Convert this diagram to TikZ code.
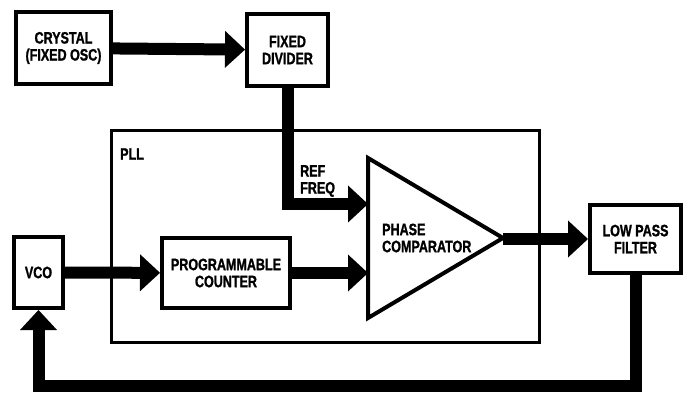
\documentclass[tikz,border=0pt]{standalone}
\usepackage{fontspec}
\setmainfont{Liberation Sans}[FakeStretch=0.76, BoldFeatures={FakeBold=1.2}]
\usetikzlibrary{arrows.meta}
\begin{document}
\begin{tikzpicture}[x=1pt, y=-1pt, >={Triangle[width=37pt,length=20pt,line width=0pt]}, font=\fontsize{16.5}{17}\selectfont\bfseries]
    % Styles
    \tikzstyle{block} = [rectangle, draw=black, line width=4pt, fill=white, align=center, inner sep=0pt]
    \tikzstyle{flow} = [->, line width=12pt]
    \useasboundingbox (0,0) rectangle (687,395);

    % PLL frame
    \node[draw, line width=3pt, minimum width=428pt, minimum height=212pt, inner sep=0pt] (pll) at (325.5,236.5) {};
    \node[anchor=west, inner sep=0pt] (plllabel) at (120,154) {PLL};

    % Nodes
    \node[block, minimum width=95pt, minimum height=72pt] (crystal) at (63.5,48) {CRYSTAL\\(FIXED OSC)};
    \node[block, minimum width=81pt, minimum height=72pt] (divider) at (287.5,50) {FIXED\\DIVIDER};
    \node[block, minimum width=49pt, minimum height=71pt] (vco) at (38.5,272.5) {VCO};
    \node[block, minimum width=128pt, minimum height=70pt] (counter) at (226,273) {PROGRAMMABLE\\COUNTER};
    \node[block, minimum width=91pt, minimum height=68pt] (lpf) at (635.5,239) {LOW PASS\\FILTER};

    % Phase comparator
    \draw[line width=4pt, line join=miter] (368,158) -- (503,238) -- (368,318) -- cycle;
    \coordinate (refin) at (368,204);
    \coordinate (cntin) at (368,273);
    \coordinate (cmpout) at (503,239);
    \node[anchor=west, align=left, inner sep=0pt] (cmplabel) at (382,238) {PHASE\\COMPARATOR};
    \node[anchor=west, align=left, inner sep=0pt] (reflabel) at (300,181) {REF\\FREQ};

    % Arrows
    \draw[flow] (crystal) -- (divider);
    \draw[flow] (divider.south) |- (refin);
    \draw[flow] (vco) -- (counter);
    \draw[flow] (counter) -- (cntin);
    \draw[flow] (cmpout) -- (lpf.west);
    \draw[flow] (lpf.south) -- ++(0,111) -| (vco.south);
\end{tikzpicture}
\end{document}
